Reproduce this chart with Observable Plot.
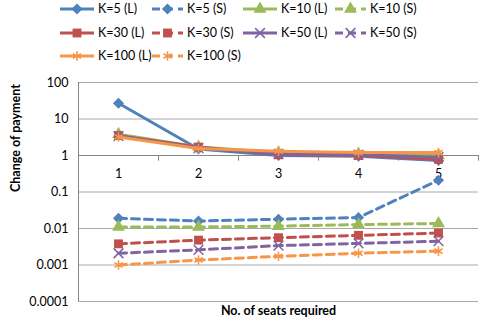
<!DOCTYPE html>
<html>
<head>
<meta charset="utf-8">
<script src="https://cdn.jsdelivr.net/npm/d3@7"></script>
<script src="https://cdn.jsdelivr.net/npm/@observablehq/plot@0.6"></script>
<style>
  html, body { margin: 0; padding: 0; background: #fff; }
  #legend svg, #chart svg { display: block; }
  #chart svg { overflow: visible; }
</style>
</head>
<body>
<div id="legend"></div>
<div id="chart"></div>
<script>
// ---- data ----
const seats = [1, 2, 3, 4, 5];
const seriesNames = ["K=5 (L)", "K=5 (S)", "K=10 (L)", "K=10 (S)", "K=30 (L)", "K=30 (S)", "K=50 (L)", "K=50 (S)", "K=100 (L)", "K=100 (S)"];
const k5L   = [27, 1.5, 1.0, 0.95, 0.73];
const k5S   = [0.019, 0.016, 0.018, 0.02, 0.21];
const k10L  = [3.8, 1.7, 1.2, 1.1, 1.0];
const k10S  = [0.011, 0.011, 0.0116, 0.0128, 0.0137];
const k30L  = [3.5, 1.7, 1.05, 1.0, 0.78];
const k30S  = [0.0038, 0.0048, 0.0056, 0.0065, 0.0075];
const k50L  = [3.4, 1.6, 1.1, 1.05, 0.9];
const k50S  = [0.0021, 0.0026, 0.0034, 0.0039, 0.0045];
const k100L = [3.2, 1.55, 1.3, 1.2, 1.2];
const k100S = [0.001, 0.00137, 0.00173, 0.0021, 0.0024];
const yTicks = [0.0001, 0.001, 0.01, 0.1, 1, 10, 100];

const seriesValues = [k5L, k5S, k10L, k10S, k30L, k30S, k50L, k50S, k100L, k100S];

// ---- styles ----
const blue = "#4F81BD", red = "#C0504D", green = "#9BBB59", purple = "#8064A2", orange = "#F79646";
const colors = [blue, blue, green, green, red, red, purple, purple, orange, orange];
const symTypes = [d3.symbolDiamond2, d3.symbolDiamond2, d3.symbolTriangle, d3.symbolTriangle, d3.symbolSquare, d3.symbolSquare, d3.symbolTimes, d3.symbolTimes, d3.symbolAsterisk, d3.symbolAsterisk];
const symFilled = [true, true, true, true, true, true, false, false, false, false];
const symRadius = [5, 5, 4.8, 4.8, 5, 5, 4.5, 4.5, 4.5, 4.5];
const FONT = "Lato, 'Open Sans', sans-serif";

const rows = seriesNames.flatMap((name, i) =>
  seats.map((s, j) => ({series: name, seats: s, value: seriesValues[i][j]}))
);

// ---- legend ----
const legendSvg = d3.select("#legend").append("svg").attr("width", 484).attr("height", 70)
  .style("font-family", FONT).style("font-size", "12.5px");
const colX = [60, 152, 243, 335];
const rowY = [9, 33, 56];
seriesNames.forEach((name, i) => {
  const c = i % 4, r = Math.floor(i / 4);
  const x0 = colX[c], y = rowY[r];
  const w = (c % 2 === 0) ? 34 : 31;
  const g = legendSvg.append("g");
  g.append("line").attr("x1", x0).attr("x2", x0 + w).attr("y1", y).attr("y2", y)
    .attr("stroke", colors[i]).attr("stroke-width", 3)
    .attr("stroke-dasharray", name.endsWith("(S)") ? "8,5" : null);
  const rad = symRadius[i];
  g.append("path").attr("d", d3.symbol(symTypes[i], rad * rad * Math.PI)())
    .attr("transform", `translate(${x0 + w / 2},${y})`)
    .attr("fill", symFilled[i] ? colors[i] : "none")
    .attr("stroke", symFilled[i] ? "none" : colors[i]).attr("stroke-width", 1.5);
  g.append("text").attr("x", x0 + w + 4).attr("y", y).attr("dy", "0.35em").attr("fill", "#000").text(name);
});

// ---- chart ----
const xBoundaries = [0.5, 1.5, 2.5, 3.5, 4.5, 5.5];
const chart = Plot.plot({
  width: 484,
  height: 258,
  marginTop: 12,
  marginBottom: 27,
  marginLeft: 78,
  marginRight: 6,
  style: {fontFamily: FONT, fontSize: "12.5px", color: "#000", background: "#fff"},
  x: {type: "linear", domain: [0.5, 5.5], axis: null},
  y: {type: "log", domain: [0.0001, 100], axis: null},
  color: {domain: seriesNames, range: colors},
  symbol: {domain: seriesNames, range: symTypes},
  marks: [
    Plot.ruleY(yTicks, {y: d => d, stroke: "#a8a8a8", strokeWidth: 1}),
    Plot.ruleX([0.5], {stroke: "#868686", strokeWidth: 1}),
    Plot.ruleY([1], {stroke: "#868686", strokeWidth: 1}),
    Plot.ruleX(xBoundaries, {x: d => d, y1: () => 1, y2: () => 0.7, stroke: "#868686"}),
    Plot.text(yTicks, {y: d => d, frameAnchor: "left", dx: -10, textAnchor: "end", text: d => String(d), fill: "#000"}),
    Plot.text(seats, {x: d => d, y: () => 1, dy: 18, text: d => String(d), fill: "#000"}),
    Plot.text(["Change of payment"], {frameAnchor: "left", dx: -63, rotate: -90, text: d => d, fontWeight: "bold", fill: "#000"}),
    Plot.text(["No. of seats required"], {frameAnchor: "bottom", dy: 13, text: d => d, fontWeight: "bold", fill: "#000"}),
    ...seriesNames.flatMap((name, i) => {
      const data = rows.filter(d => d.series === name);
      const dashed = name.endsWith("(S)");
      return [
        Plot.line(data, {x: "seats", y: "value", stroke: "series", strokeWidth: 3, strokeDasharray: dashed ? "8,5" : null, curve: "linear"}),
        symFilled[i]
          ? Plot.dot(data, {x: "seats", y: "value", symbol: "series", fill: "series", r: symRadius[i]})
          : Plot.dot(data, {x: "seats", y: "value", symbol: "series", stroke: "series", strokeWidth: 1.5, r: symRadius[i]})
      ];
    })
  ]
});
document.getElementById("chart").appendChild(chart);
</script>
</body>
</html>
